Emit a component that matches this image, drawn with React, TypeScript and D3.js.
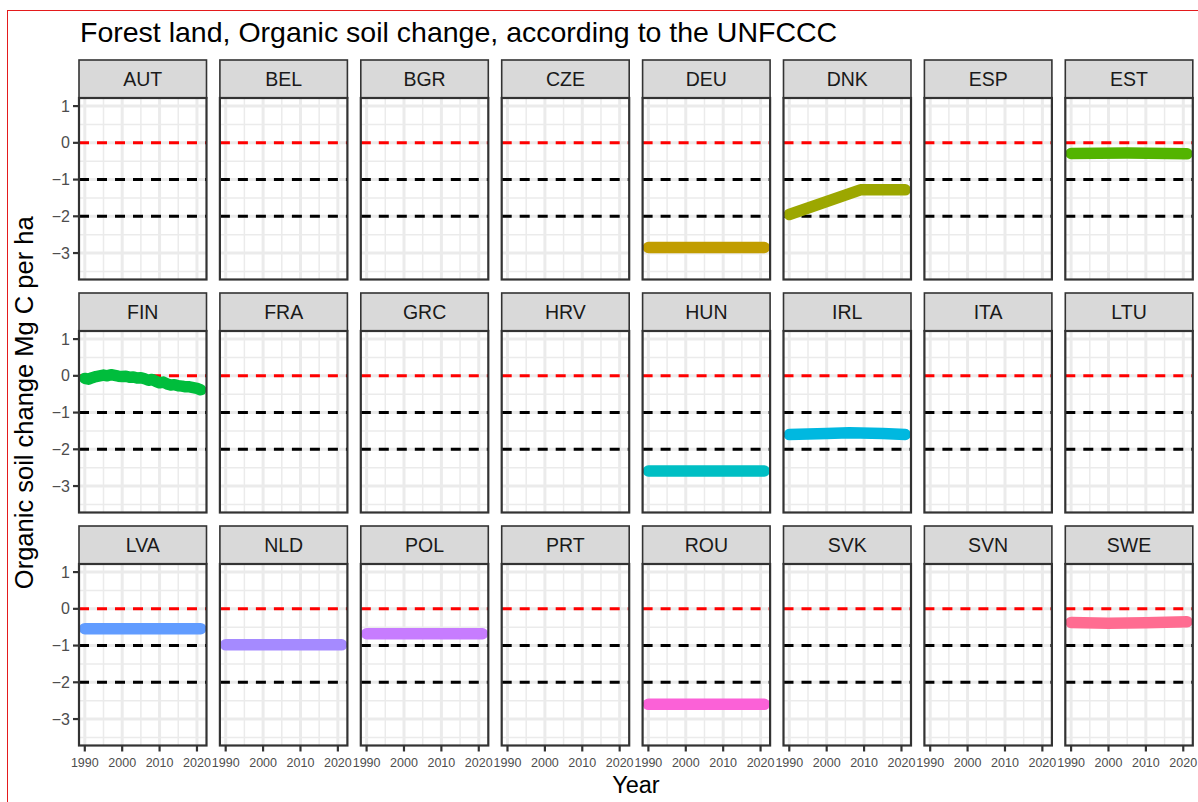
import * as d3 from 'd3';

// Facet panels, in the order ggplot lays them out (8 per row)
const COUNTRIES = [
  'AUT', 'BEL', 'BGR', 'CZE', 'DEU', 'DNK', 'ESP', 'EST',
  'FIN', 'FRA', 'GRC', 'HRV', 'HUN', 'IRL', 'ITA', 'LTU',
  'LVA', 'NLD', 'POL', 'PRT', 'ROU', 'SVK', 'SVN', 'SWE',
];

const X_TICKS = [1990, 2000, 2010, 2020];
const X_MINOR = [1995, 2005, 2015];
const Y_TICKS = [1, 0, -1, -2, -3];
const Y_MINOR = [0.5, -0.5, -1.5, -2.5, -3.5];
const REF_LINES = [0, -1, -2];

// [year, Mg C per ha]
const DEU_VALUES: [number, number][] = [[1990, -2.85], [2021, -2.85]];
const DNK_VALUES: [number, number][] = [[1990, -1.95], [2009, -1.28], [2021, -1.28]];
const EST_VALUES: [number, number][] = [[1990, -0.29], [2005, -0.28], [2021, -0.3]];
const FIN_VALUES: [number, number][] = [
  [1990, -0.07], [1991, -0.09], [1992, -0.05], [1993, -0.02], [1994, 0.0], [1995, 0.02],
  [1996, 0.0], [1997, 0.03], [1998, 0.01], [1999, -0.01], [2000, -0.02], [2001, -0.01],
  [2002, -0.04], [2003, -0.03], [2004, -0.06], [2005, -0.05], [2006, -0.08], [2007, -0.12],
  [2008, -0.1], [2009, -0.15], [2010, -0.19], [2011, -0.17], [2012, -0.22], [2013, -0.25],
  [2014, -0.24], [2015, -0.27], [2016, -0.28], [2017, -0.3], [2018, -0.3], [2019, -0.32],
  [2020, -0.34], [2021, -0.38],
];
const HUN_VALUES: [number, number][] = [[1990, -2.59], [2021, -2.59]];
const IRL_VALUES: [number, number][] = [[1990, -1.6], [2000, -1.57], [2006, -1.55], [2015, -1.57], [2021, -1.6]];
const LVA_VALUES: [number, number][] = [[1990, -0.54], [2021, -0.54]];
const NLD_VALUES: [number, number][] = [[1990, -0.98], [2021, -0.98]];
const POL_VALUES: [number, number][] = [[1990, -0.68], [2021, -0.68]];
const ROU_VALUES: [number, number][] = [[1990, -2.6], [2021, -2.6]];
const SWE_VALUES: [number, number][] = [[1990, -0.37], [2000, -0.39], [2010, -0.38], [2021, -0.35]];

const SERIES: { country: string; color: string; values: [number, number][] }[] = [
  { country: 'DEU', color: '#C19D00', values: DEU_VALUES },
  { country: 'DNK', color: '#9CA700', values: DNK_VALUES },
  { country: 'EST', color: '#53B400', values: EST_VALUES },
  { country: 'FIN', color: '#00BD3C', values: FIN_VALUES },
  { country: 'HUN', color: '#00BFC4', values: HUN_VALUES },
  { country: 'IRL', color: '#00B8E0', values: IRL_VALUES },
  { country: 'LVA', color: '#619CFF', values: LVA_VALUES },
  { country: 'NLD', color: '#A58AFF', values: NLD_VALUES },
  { country: 'POL', color: '#C77CFF', values: POL_VALUES },
  { country: 'ROU', color: '#FB61D7', values: ROU_VALUES },
  { country: 'SWE', color: '#FF6C91', values: SWE_VALUES },
];

const W = 1198;
const H = 802;
const COLS = 8;
const PANEL_LEFT = 79;
const PANEL_PITCH_X = 140.9;
const PANEL_W = 127.5;
const STRIP_TOP = 60;
const STRIP_H = 38;
const PANEL_H = 181.5;
const ROW_PITCH = 233;
const FONT = 'Liberation Sans, Arial, Helvetica, sans-serif';

export default function App() {
  const x = d3.scaleLinear().domain([1988.45, 2022.55]).range([0, PANEL_W]);
  const y = d3.scaleLinear().domain([1.22, -3.72]).range([0, PANEL_H]);
  const line = d3
    .line<[number, number]>()
    .x((d) => x(d[0]))
    .y((d) => y(d[1]));
  const nRows = Math.ceil(COUNTRIES.length / COLS);
  const areaBottom = STRIP_TOP + (nRows - 1) * ROW_PITCH + STRIP_H + PANEL_H;

  return (
    <svg
      width={W}
      height={H}
      style={{ position: 'absolute', left: 0, top: 0, background: '#fff' }}
      fontFamily={FONT}
    >
      <rect x={0} y={0} width={W} height={H} fill="#fff" />
      <rect x={7.5} y={10.5} width={W + 10} height={H + 10} fill="none" stroke="#E41A1C" strokeWidth={1} />
      <text x={80} y={42} fontSize={28.5} fill="#000">
        Forest land, Organic soil change, according to the UNFCCC
      </text>

      {COUNTRIES.map((c, i) => {
        const col = i % COLS;
        const row = Math.floor(i / COLS);
        const px = PANEL_LEFT + col * PANEL_PITCH_X;
        const sy = STRIP_TOP + row * ROW_PITCH;
        const py = sy + STRIP_H;
        const series = SERIES.find((s) => s.country === c);
        return (
          <g key={c}>
            <rect x={px} y={sy} width={PANEL_W} height={STRIP_H} fill="#D9D9D9" stroke="#333333" strokeWidth={1.6} />
            <text x={px + PANEL_W / 2} y={sy + STRIP_H / 2 + 7} textAnchor="middle" fontSize={19.5} fill="#1A1A1A">
              {c}
            </text>
            <g transform={`translate(${px},${py})`}>
              <rect x={0} y={0} width={PANEL_W} height={PANEL_H} fill="#fff" />
              {Y_MINOR.map((v) => (
                <line key={`ym${v}`} x1={0} x2={PANEL_W} y1={y(v)} y2={y(v)} stroke="#EBEBEB" strokeWidth={1.5} />
              ))}
              {X_MINOR.map((v) => (
                <line key={`xm${v}`} x1={x(v)} x2={x(v)} y1={0} y2={PANEL_H} stroke="#EBEBEB" strokeWidth={1.5} />
              ))}
              {Y_TICKS.map((v) => (
                <line key={`yM${v}`} x1={0} x2={PANEL_W} y1={y(v)} y2={y(v)} stroke="#EBEBEB" strokeWidth={3} />
              ))}
              {X_TICKS.map((v) => (
                <line key={`xM${v}`} x1={x(v)} x2={x(v)} y1={0} y2={PANEL_H} stroke="#EBEBEB" strokeWidth={3} />
              ))}
              {REF_LINES.map((v) => (
                <line
                  key={`ref${v}`}
                  x1={0}
                  x2={PANEL_W}
                  y1={y(v)}
                  y2={y(v)}
                  stroke={v === 0 ? '#FF0000' : '#000000'}
                  strokeWidth={3}
                  strokeDasharray="10 8"
                />
              ))}
              {series && (
                <path
                  d={line(series.values) ?? ''}
                  fill="none"
                  stroke={series.color}
                  strokeWidth={11.5}
                  strokeLinecap="round"
                  strokeLinejoin="round"
                />
              )}
              <rect x={0} y={0} width={PANEL_W} height={PANEL_H} fill="none" stroke="#333333" strokeWidth={2.2} />
              {col === 0 &&
                Y_TICKS.map((v) => (
                  <g key={`yt${v}`} transform={`translate(0,${y(v)})`}>
                    <line x1={-6} x2={0} stroke="#333333" strokeWidth={2.2} />
                    <text x={-9} y={5.5} textAnchor="end" fontSize={16} fill="#4D4D4D">
                      {v < 0 ? `\u2212${-v}` : v}
                    </text>
                  </g>
                ))}
              {row === nRows - 1 &&
                X_TICKS.map((v) => (
                  <g key={`xt${v}`} transform={`translate(${x(v)},${PANEL_H})`}>
                    <line y1={0} y2={6} stroke="#333333" strokeWidth={2.2} />
                    <text y={21} textAnchor="middle" fontSize={12.5} fill="#4D4D4D">
                      {v}
                    </text>
                  </g>
                ))}
            </g>
          </g>
        );
      })}

      <text
        x={PANEL_LEFT + ((COLS - 1) * PANEL_PITCH_X + PANEL_W) / 2}
        y={793}
        textAnchor="middle"
        fontSize={23.5}
        fill="#000"
      >
        Year
      </text>
      <text
        transform={`translate(33,${(STRIP_TOP + areaBottom) / 2}) rotate(-90)`}
        textAnchor="middle"
        fontSize={25.5}
        fill="#000"
      >
        Organic soil change Mg C per ha
      </text>
    </svg>
  );
}
